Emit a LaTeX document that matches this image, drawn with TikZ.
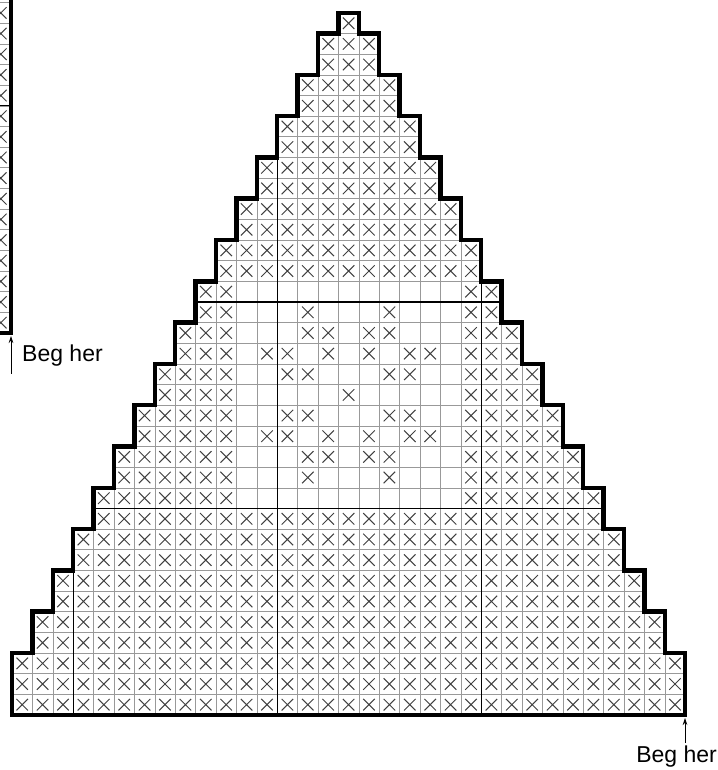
\documentclass[tikz,border=0pt]{standalone}
\usepackage{fontspec}
\newfontfamily\labelfont{Liberation Sans}
\usetikzlibrary{positioning, arrows.meta, shapes.misc}

% staircase rim of the triangle, in cell units
\newcommand{\chartoutline}{(0,0) -- (33,0) -- (33,3)
  \foreach \k in {1,...,15}{ -- (33-\k,2*\k+1) -- (33-\k,2*\k+3)}
  -- (17,33) -- (17,34) -- (16,34) -- (16,33)
  \foreach \k in {15,...,1}{ -- (\k,2*\k+3) -- (\k,2*\k+1)}
  -- (0,3) -- cycle}

\begin{document}
\begin{tikzpicture}[
  x=1pt, y=1pt,
  >=Stealth,
  gridline/.style={black!40, line width=0.6pt},
  tenline/.style={black, line width=1.1pt},
  rim/.style={black, line width=4.5pt, line join=miter},
  xmark/.style={cross out, draw=black!75, line width=1pt, minimum size=10.5pt, inner sep=0pt},
  beglabel/.style={font=\labelfont\fontsize{23}{23}\selectfont, inner sep=0pt},
  pointer/.style={-{Stealth[length=7pt, width=4.5pt]}, line width=0.7pt}
]
\useasboundingbox (0,0) rectangle (717,770);

% --- Left strip (end of previous piece) ---
\begin{scope}
\clip (0,0) rectangle (717,770);
\begin{scope}[shift={(11pt,437pt)}, x=20.4pt, y=20.65pt]
  \foreach \j in {0,...,16} {
    \draw[gridline] (-1,\j) -- (0,\j);
    \node[xmark] (s-\j) at (-0.5,\j+0.5) {};
  }
  \draw[tenline] (-1,11) -- (0,11);
  \draw[rim] (-1,0) -- (0,0) -- (0,17);
\end{scope}
\end{scope}

% --- Triangle chart ---
\begin{scope}[shift={(12pt,55pt)}, x=20.4pt, y=20.65pt]
  \begin{scope}
    \clip \chartoutline;
    \foreach \i in {1,...,32} \draw[gridline] (\i,0) -- (\i,34);
    \foreach \j in {1,...,33} \draw[gridline] (0,\j) -- (33,\j);
    \foreach \i in {3,13,23} \draw[tenline] (\i,0) -- (\i,34);
    \foreach \j in {10,20} \draw[tenline] (0,\j) -- (33,\j);
  \end{scope}

  % crosses, leaving the centre square open
  \foreach \j in {0,...,33} {
    \pgfmathtruncatemacro\lo{max(0,floor((\j-1)/2))}
    \pgfmathtruncatemacro\hi{32-\lo}
    \foreach \i in {\lo,...,\hi} {
      \pgfmathtruncatemacro\blank{(\j>9)*(\j<21)*(\i>10)*(\i<22)}
      \ifnum\blank=0 \node[xmark] (c-\i-\j) at (\i+0.5,\j+0.5) {};\fi
    }
  }

  % motif in the centre square
  \foreach \i/\j in {14/19, 18/19,
                     14/18, 15/18, 17/18, 18/18,
                     12/17, 13/17, 15/17, 17/17, 19/17, 20/17,
                     13/16, 14/16, 18/16, 19/16,
                     16/15,
                     13/14, 14/14, 18/14, 19/14,
                     12/13, 13/13, 15/13, 17/13, 19/13, 20/13,
                     14/12, 15/12, 17/12, 18/12,
                     14/11, 18/11}
    \node[xmark] (m-\i-\j) at (\i+0.5,\j+0.5) {};

  \draw[rim] \chartoutline;
\end{scope}

% --- Labels ---
\coordinate (leftfoot) at (11,434);
\coordinate (lefttail) at (11,396);
\node[beglabel, anchor=base west] (begleft) at (22,408) {Beg her};
\draw[pointer] (lefttail) -- (leftfoot);

\coordinate (rightfoot) at (685,52);
\coordinate (righttail) at (685,27);
\node[beglabel, anchor=base east] (begright) at (717,8) {Beg her};
\draw[pointer] (righttail) -- (rightfoot);

\end{tikzpicture}
\end{document}
